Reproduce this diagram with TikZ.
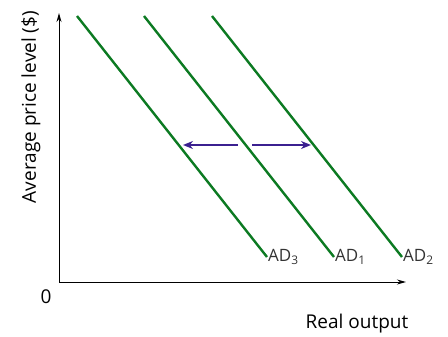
\documentclass[tikz,border=0pt]{standalone}
\usepackage{fontspec}
\setmainfont{Open Sans}
\usetikzlibrary{arrows.meta}
\definecolor{adgreen}{HTML}{0C7A22}
\definecolor{shiftpurple}{HTML}{3B2090}
\begin{document}
\begin{tikzpicture}[x=1pt,y=-1pt,
  axis/.style={line width=1pt,-{Stealth[length=9pt,width=5pt]}},
  adline/.style={adgreen,line width=2.4pt},
  shiftarrow/.style={shiftpurple,line width=2.4pt,-{Stealth[length=10pt,width=8pt]}},
  adlabel/.style={font=\fontsize{17}{20}\selectfont,text=black!80,anchor=west,inner sep=1pt}]
\useasboundingbox (0,0) rectangle (448,337);
\coordinate (O) at (59,282);
\coordinate (ytop) at (59,13);
\coordinate (xend) at (406,282);
\draw[axis] (O) -- (ytop);
\draw[axis] (O) -- (xend);
\coordinate (a3t) at (77,16); \coordinate (a3b) at (267,257);
\coordinate (a1t) at (144,16); \coordinate (a1b) at (334,257);
\coordinate (a2t) at (212,16); \coordinate (a2b) at (402,257);
\draw[adline] (a3t) -- (a3b);
\draw[adline] (a1t) -- (a1b);
\draw[adline] (a2t) -- (a2b);
\node[adlabel] (l3) at (a3b) {AD\textsubscript{3}};
\node[adlabel] (l1) at (a1b) {AD\textsubscript{1}};
\node[adlabel] (l2) at (a2b) {AD\textsubscript{2}};
\coordinate (sl) at (238,145); \coordinate (sr) at (252,145);
\coordinate (tl) at (183,145); \coordinate (tr) at (311,145);
\draw[shiftarrow] (sl) -- (tl);
\draw[shiftarrow] (sr) -- (tr);
\node[font=\fontsize{19}{22}\selectfont] (zero) at (46,297) {0};
\node[font=\fontsize{19}{22}\selectfont] (xlab) at (357,324) {Real output};
\node[font=\fontsize{19}{22}\selectfont,rotate=90] (ylab) at (31,107) {Average price level (\$)};
\end{tikzpicture}
\end{document}
